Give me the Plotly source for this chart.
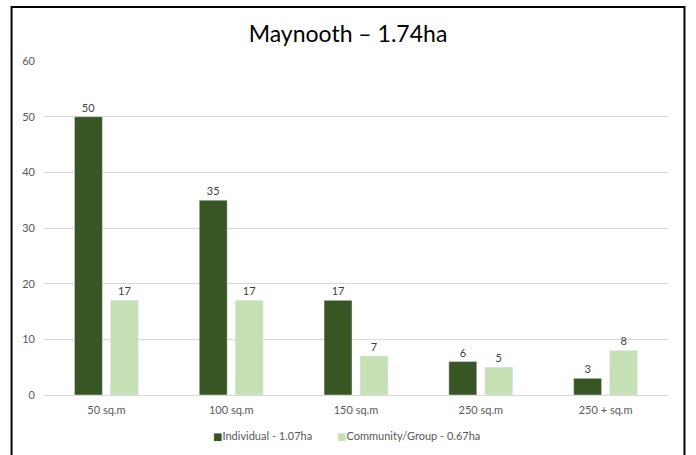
import plotly.graph_objects as go

categories = ["50 sq.m", "100 sq.m", "150 sq.m", "250 sq.m", "250 + sq.m"]
individual = [50, 35, 17, 6, 3]
community = [17, 17, 7, 5, 8]
series_names = ["Individual - 1.07ha", "Community/Group - 0.67ha"]
title_text = "Maynooth \u2013 1.74ha"

DARK = "#375623"
LIGHT = "#C5E0B4"
FONT = "Lato, 'Open Sans', sans-serif"

W, H = 696, 455
L, R, T, B = 43.5, 27.5, 61, 60
pw, ph = W - L - R, H - T - B


def px_x(x):
    return (x - L) / pw


def px_y(y):
    return (H - B - y) / ph


fig = go.Figure()
for vals, name, col in [(individual, series_names[0], DARK), (community, series_names[1], LIGHT)]:
    fig.add_trace(go.Bar(
        x=categories, y=vals, name=name, marker_color=col,
        text=[str(v) for v in vals], textposition="outside",
        textfont=dict(size=11, color="#404040", family=FONT),
        cliponaxis=False, showlegend=False,
    ))

# legend row: coloured square followed by the series name
for name, col, x in [(series_names[0], DARK, 211), (series_names[1], LIGHT, 335)]:
    fig.add_annotation(
        xref="paper", yref="paper", x=px_x(x), y=px_y(435),
        xanchor="left", yanchor="middle", showarrow=False,
        text=f"<span style='color:{col};font-size:10px;font-family:DejaVu Sans'>\u25a0</span>{name}",
        font=dict(size=11, color="#595959", family=FONT),
    )

# outer frame of the chart
fig.add_shape(type="rect", xref="paper", yref="paper",
              x0=px_x(11), x1=px_x(685), y0=px_y(470), y1=px_y(7),
              line=dict(color="black", width=2), fillcolor="rgba(0,0,0,0)", layer="above")

fig.update_layout(
    width=W, height=H,
    margin=dict(l=L, r=R, t=T, b=B, pad=0),
    paper_bgcolor="white", plot_bgcolor="white",
    barmode="group", bargap=0.424, bargroupgap=0.222,
    title=dict(text=title_text, x=0.5, xanchor="center", y=1 - 34 / H, yanchor="middle",
               font=dict(size=23, color="black", family=FONT)),
    font=dict(family=FONT, color="#595959", size=11),
    xaxis=dict(showgrid=False, showline=False, ticks="", ticklabelstandoff=7,
               tickfont=dict(size=11, color="#595959")),
    yaxis=dict(range=[0, 60], dtick=10, showgrid=True, gridcolor="#D9D9D9", gridwidth=1,
               zeroline=True, zerolinecolor="#D9D9D9", zerolinewidth=1,
               showline=False, ticks="", ticklabelstandoff=8,
               tickfont=dict(size=11, color="#595959")),
)

fig.write_html("out.html")
